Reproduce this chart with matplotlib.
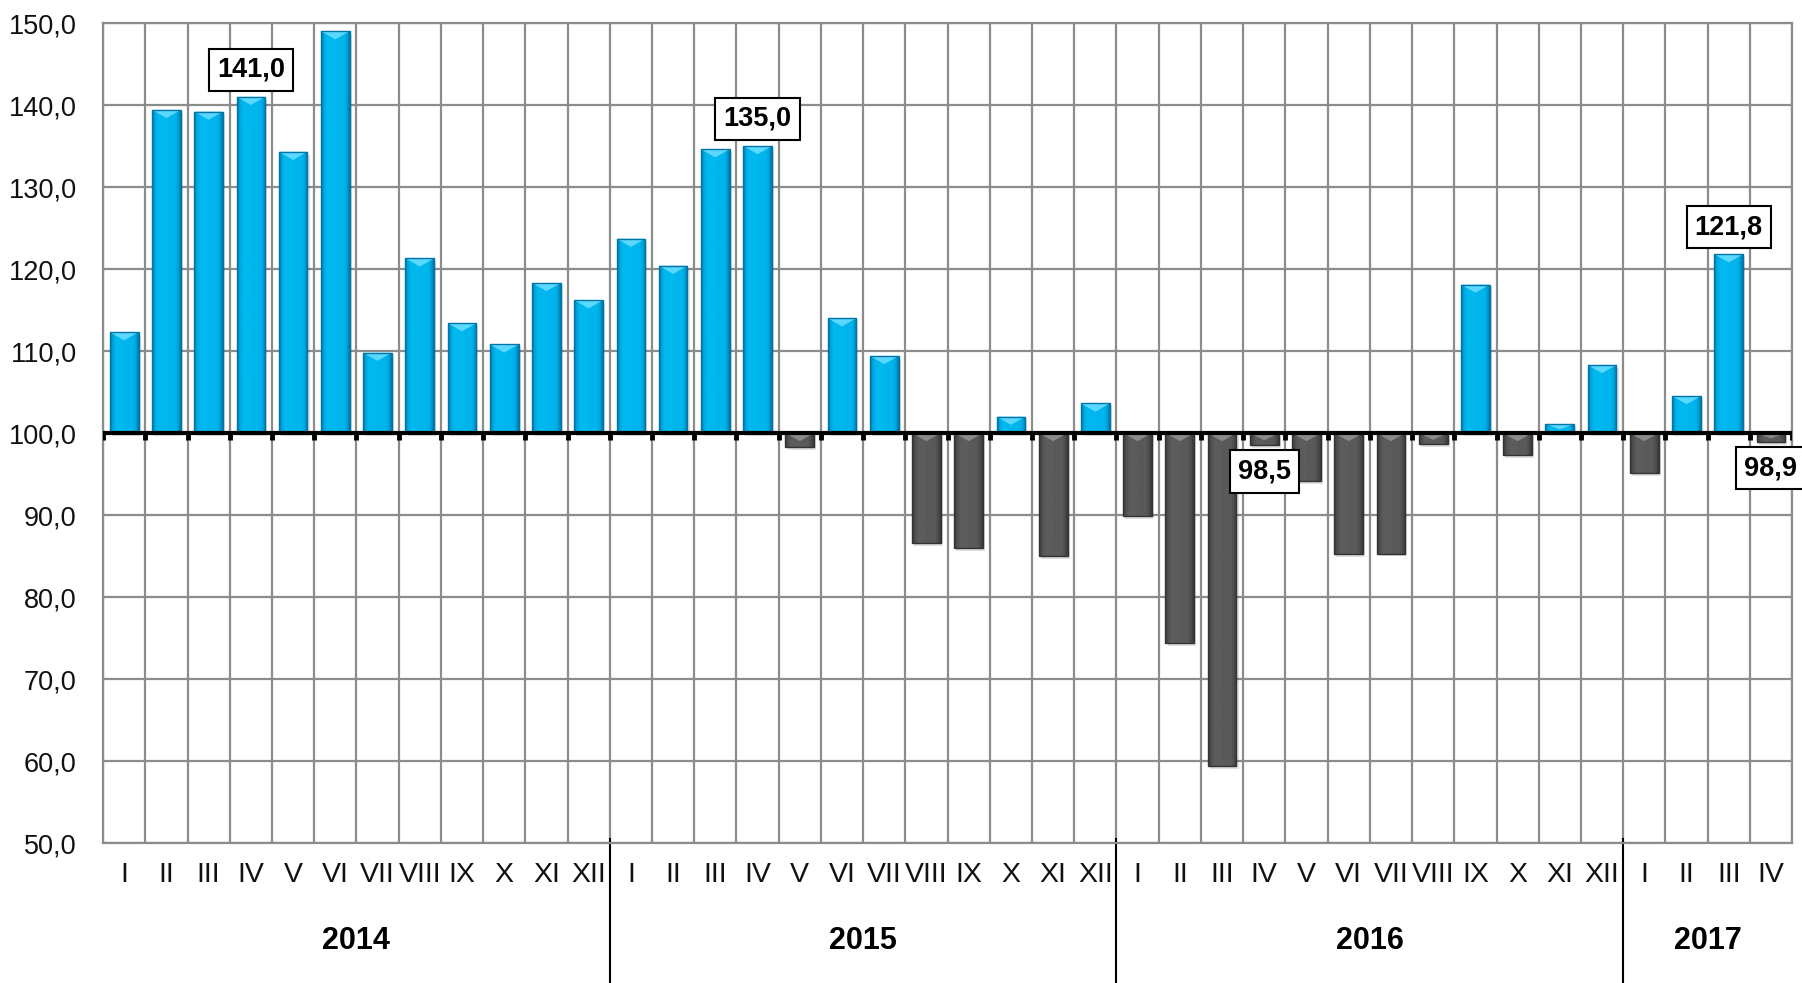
import numpy as np
import matplotlib.pyplot as plt
from matplotlib.colors import LinearSegmentedColormap
from matplotlib.patches import Polygon
from matplotlib.transforms import blended_transform_factory

roman = ['I', 'II', 'III', 'IV', 'V', 'VI', 'VII', 'VIII', 'IX', 'X', 'XI', 'XII']
years = ['2014', '2015', '2016', '2017']
year_len = [12, 12, 12, 4]
months = roman * 3 + roman[:4]

values = [112.3, 139.4, 139.2, 141.0, 134.3, 149.0, 109.8, 121.3, 113.4, 110.8, 118.3, 116.2,
          123.7, 120.4, 134.6, 135.0, 98.3, 114.0, 109.4, 86.6, 86.0, 102.0, 85.0, 103.6,
          89.9, 74.4, 59.4, 98.5, 94.1, 85.2, 85.3, 98.6, 118.1, 97.3, 101.1, 108.3,
          95.1, 104.5, 121.8, 98.9]
labelled = [3, 15, 27, 38, 39]

base = 100
narrow = ['Liberation Sans Narrow', 'Liberation Sans', 'DejaVu Sans']
regular = ['Liberation Sans', 'DejaVu Sans']

blue_cmap = LinearSegmentedColormap.from_list('b', ['#0078AA', '#00A6DE', '#00B8F0'])
gray_cmap = LinearSegmentedColormap.from_list('g', ['#383838', '#4e4e4e', '#5c5c5c'])

fig = plt.figure(figsize=(18.02, 9.83), dpi=100)
ax = fig.add_axes([0.0572, 0.1424, 0.9373, 0.8342])

x = np.arange(len(values))
vals = np.array(values)
heights = vals - base
width = 0.68
bars = ax.bar(x, heights, width=width, bottom=base, color='none', edgecolor='none', zorder=3)

prof = np.linspace(0, 1, 80)
shade = np.clip(np.sin(np.pi * prof) * 1.6, 0, 1) * np.where(prof < 0.5, 1.0, 0.92)
for rect, v in zip(bars, vals):
    x0 = rect.get_x()
    x1 = x0 + rect.get_width()
    y0 = rect.get_y()
    y1 = y0 + rect.get_height()
    lo, hi = min(y0, y1), max(y0, y1)
    up = v >= base
    cmap = blue_cmap if up else gray_cmap
    # soft shadow
    ax.bar(rect.get_x() + rect.get_width() / 2 + 0.05, hi - lo, width=width, bottom=lo - 0.35,
           color='#000000', alpha=0.12, zorder=2.5, linewidth=0)
    im = ax.imshow(shade[np.newaxis, :], cmap=cmap, vmin=0, vmax=1, extent=[x0, x1, lo, hi],
                   aspect='auto', zorder=3, interpolation='bilinear')
    im.set_clip_path(rect)
    bh = min(1.0, (hi - lo) * 0.6)
    tri = Polygon([[x0, hi], [x1, hi], [(x0 + x1) / 2, hi - bh]], closed=True,
                  facecolor='#5AD8FF' if up else '#8a8a8a', edgecolor='none', zorder=3.2)
    ax.add_patch(tri)
    ax.add_patch(plt.Rectangle((x0, lo), x1 - x0, hi - lo, fill=False,
                               edgecolor='#0074a6' if up else '#333333', linewidth=1.0, zorder=3.3))

ax.set_xlim(-0.5, len(values) - 0.5)
ax.set_ylim(50, 150)
ax.set_yticks(np.arange(50, 151, 10))
ax.set_yticklabels([f'{t:.1f}'.replace('.', ',') for t in np.arange(50, 151, 10)],
                   fontsize=19.5, family=regular, color='#111111')
ax.set_xticks(x)
ax.set_xticklabels(months, fontsize=20.5, family=narrow, color='#111111')
ax.set_xticks(np.arange(-0.5, len(values), 1), minor=True)
ax.tick_params(axis='both', which='both', length=0)
ax.tick_params(axis='x', which='major', pad=14)
ax.tick_params(axis='y', pad=19)
ax.grid(which='minor', axis='x', color='#8c8c8c', linewidth=1.6, zorder=0)
ax.grid(which='major', axis='y', color='#8c8c8c', linewidth=1.6, zorder=0)
ax.set_axisbelow(True)
for s in ax.spines.values():
    s.set_color('#8c8c8c')
    s.set_linewidth(1.6)

# baseline at 100 with small ticks
ax.axhline(base, color='black', linewidth=3, zorder=4)
ax.vlines(np.arange(-0.5, len(values), 1), base - 0.8, base, color='black', linewidth=3.5, zorder=4)

# data labels
for i in labelled:
    v = values[i]
    off = 3.3 if v >= base else -3.2
    ax.text(x[i], v + off, f'{v:.1f}'.replace('.', ','), ha='center', va='center',
            fontsize=19.5, fontweight='bold', family=regular, zorder=6, clip_on=False,
            bbox=dict(boxstyle='square,pad=0.3', facecolor='white', edgecolor='black', linewidth=1.5))

# year groups
trans = blended_transform_factory(ax.transData, ax.transAxes)
start = 0
for yr, n in zip(years, year_len):
    ax.text(start + n / 2 - 0.5, -0.12, yr, transform=trans, ha='center', va='center',
            fontsize=22, fontweight='bold', family=narrow)
    if start > 0:
        ax.plot([start - 0.5, start - 0.5], [0.005, -0.2], transform=trans, color='black',
                linewidth=1.5, clip_on=False)
    start += n

fig.savefig('out.png', dpi=100)
